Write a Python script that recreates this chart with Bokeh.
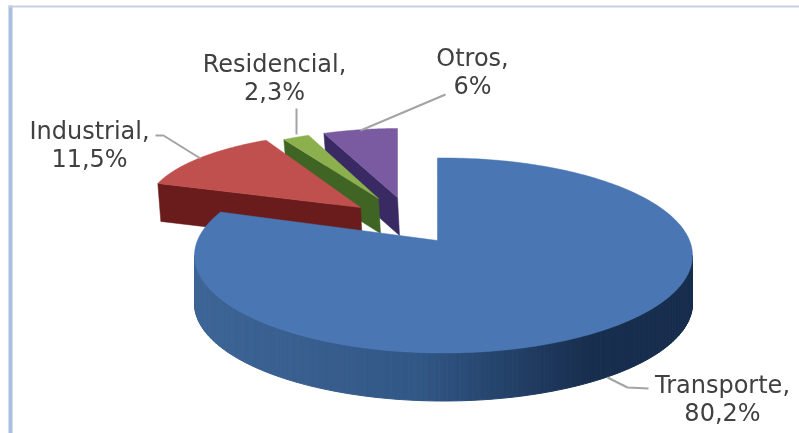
import numpy as np
from bokeh.plotting import figure
from bokeh.models import Range1d, ColumnDataSource
from bokeh.core.properties import value
from bokeh.embed import file_html
from bokeh.resources import INLINE

categories = ["Transporte", "Industrial", "Residencial", "Otros"]
shares = [80.2, 11.5, 2.3, 6.0]
share_labels = ["80,2%", "11,5%", "2,3%", "6%"]
top_colors = ["#4A77B4", "#C0504D", "#8DB04F", "#7A5AA1"]
wall_colors = ["#2B4F7E", "#6A1C1C", "#3F6424", "#3A2A63"]

W, H = 799, 433
p = figure(width=W, height=H, x_range=Range1d(0, W), y_range=Range1d(H, 0),
           output_backend="svg", toolbar_location=None, min_border=0,
           background_fill_color="white", border_fill_color="white")
p.styles = {"position": "fixed", "left": "0px", "top": "0px"}
p.axis.visible = False
p.grid.visible = False
p.outline_line_color = None

# frame of the slide
p.quad(left=[8], right=[12], top=[5], bottom=[H], fill_color="#A9BFDD", line_color=None)
p.quad(left=[8], right=[W], top=[5], bottom=[7], fill_color="#C9CFDF", line_color=None)

# cumulative angles, clockwise from 12 o'clock
ang = np.cumsum([0] + shares) * 3.6
geom = {  # apex x, y, ellipse centre x, y, rx, ry, depth, perspective shift of start and end angle
    0: (437, 240, 443, 255, 249, 97.5, 48, -1.4, 7.7),
    1: (360, 207, 360, 207, 214, 75, 38, 0.0, 3.7),
    2: (378, 198, 378, 198, 190, 68, 35, 0.0, 0.0),
    3: (397, 197, 397, 197, 200, 69, 38, 0.0, 0.0),
}


def arc(i, n=120):
    ax, ay, cx, cy, rx, ry, d, s0, s1 = geom[i]
    t = np.radians(np.linspace(ang[i] + s0, ang[i + 1] + s1, n))
    return cx + rx * np.sin(t), cy - ry * np.cos(t)


def cut_wall(i, which):
    ax, ay = geom[i][:2]
    d = geom[i][6]
    x, y = arc(i, 2)
    ox, oy = x[which], y[which]
    return [ox, ax, ax + 2, ox + 3], [oy, ay, ay + d, oy + d]


# small slices, back to front
for i in (3, 2, 1):
    wx, wy = cut_wall(i, 0)
    p.patch(wx, wy, fill_color=wall_colors[i], line_color=wall_colors[i], line_width=0.5)
    x, y = arc(i)
    ax, ay = geom[i][:2]
    p.patch(list(x) + [ax], list(y) + [ay], fill_color=top_colors[i],
            line_color=top_colors[i], line_width=0.5)

# big slice: side wall in shaded strips
ax, ay, cx, cy, rx, ry, d, s0, s1 = geom[0]
t = np.radians(np.linspace(90, 270, 181))
sx = cx + rx * np.sin(t)
sy = cy - ry * np.cos(t)
left_c = np.array([62, 102, 150])
mid_c = np.array([50, 88, 135])
right_c = np.array([24, 46, 78])
xs, ys, cols = [], [], []
for j in range(len(t) - 1):
    xs.append([sx[j], sx[j + 1], sx[j + 1], sx[j]])
    ys.append([sy[j], sy[j + 1], sy[j + 1] + d, sy[j] + d])
    f = (sx[j] - (cx - rx)) / (2 * rx)
    c = left_c + (mid_c - left_c) * f / 0.45 if f < 0.45 else mid_c + (right_c - mid_c) * min(1, (f - 0.45) / 0.35)
    cols.append("#%02x%02x%02x" % tuple(int(v) for v in c))
p.patches(xs, ys, fill_color=cols, line_color=cols, line_width=1)

x, y = arc(0, 300)
p.patch(list(x) + [ax], list(y) + [ay], fill_color=top_colors[0], line_color=top_colors[0], line_width=0.5)

# leaders
leaders = [
    ([607, 627, 648], [377, 387, 388]),
    ([155, 163, 200], [135, 135, 158]),
    ([296, 296], [108, 134]),
    ([445, 360], [94, 130]),
]
for lx, ly in leaders:
    p.line(lx, ly, line_color="#A3A3A3", line_width=2)

# labels
lab_x = [722, 89, 274, 472]
lab_y = [398, 144, 77, 71]
src = ColumnDataSource(dict(x=lab_x, y=lab_y,
                            t=[f"{c},\n{s}" for c, s in zip(categories, share_labels)]))
p.text("x", "y", text="t", source=src, text_align="center", text_baseline="middle",
       text_font=value("DejaVu Sans"), text_font_size="24px", text_color="#404040",
       text_line_height=1.0)

open("out.html", "w").write(file_html(p, INLINE))
